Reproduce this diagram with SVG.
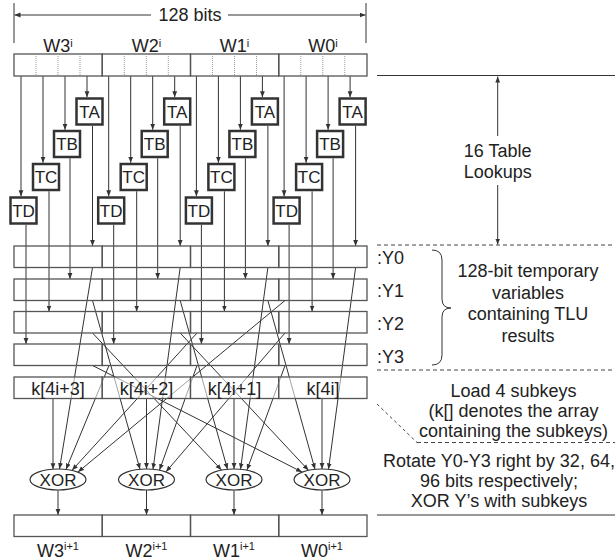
<svg xmlns="http://www.w3.org/2000/svg" width="615" height="560" viewBox="0 0 615 560">
<defs>
<marker id="ah" viewBox="0 0 10 10" refX="10" refY="5" markerWidth="6" markerHeight="6" markerUnits="userSpaceOnUse" orient="auto"><path d="M0,1 L10,5 L0,9 z" fill="#333"/></marker>
<style>
text{font-family:"Liberation Sans",Arial,Helvetica,sans-serif;fill:#222}
.t18{font-size:18px}
.t17{font-size:17px}
.mid{text-anchor:middle}
.ln{stroke:#333;stroke-width:1;fill:none}
.arr{stroke:#333;stroke-width:1;fill:none;marker-end:url(#ah)}
.cell{fill:none;stroke:#555;stroke-width:1.3}
.kcell{fill:#fff;fill-opacity:0.55;stroke:#555;stroke-width:1.3}
.tbox{fill:#fff;stroke:#333;stroke-width:2.5}
.xor{fill:#fff;stroke:#333;stroke-width:1.2}
.dash{stroke:#444;stroke-width:1;stroke-dasharray:4,3;fill:none}
.dot{stroke:#999;stroke-width:1;stroke-dasharray:1,1}
</style>
</defs>

<!-- width annotation -->
<g id="width-annotation">
<line class="ln" x1="14" y1="3" x2="14" y2="43"/>
<line class="ln" x1="366" y1="3" x2="366" y2="43"/>
<line class="arr" x1="151" y1="15" x2="14.5" y2="15"/>
<line class="arr" x1="228" y1="15" x2="365.5" y2="15"/>
<text class="t18 mid" x="190" y="21">128 bits</text>
</g>

<!-- connectors -->
<g id="connectors">
<!-- inputs to table lookups -->
<line class="arr" x1="21" y1="76" x2="21" y2="196.3"/>
<line class="arr" x1="43" y1="76" x2="43" y2="162.8"/>
<line class="arr" x1="65" y1="76" x2="65" y2="129.8"/>
<line class="arr" x1="87" y1="76" x2="87" y2="97.3"/>
<line class="arr" x1="108.7" y1="76" x2="108.7" y2="196.3"/>
<line class="arr" x1="130.7" y1="76" x2="130.7" y2="162.8"/>
<line class="arr" x1="152.7" y1="76" x2="152.7" y2="129.8"/>
<line class="arr" x1="174.7" y1="76" x2="174.7" y2="97.3"/>
<line class="arr" x1="196.4" y1="76" x2="196.4" y2="196.3"/>
<line class="arr" x1="218.4" y1="76" x2="218.4" y2="162.8"/>
<line class="arr" x1="240.4" y1="76" x2="240.4" y2="129.8"/>
<line class="arr" x1="262.4" y1="76" x2="262.4" y2="97.3"/>
<line class="arr" x1="284.1" y1="76" x2="284.1" y2="196.3"/>
<line class="arr" x1="306.1" y1="76" x2="306.1" y2="162.8"/>
<line class="arr" x1="328.1" y1="76" x2="328.1" y2="129.8"/>
<line class="arr" x1="350.1" y1="76" x2="350.1" y2="97.3"/>
<!-- outputs of table lookups -->
<line class="arr" x1="26" y1="224.8" x2="26" y2="344"/>
<line class="arr" x1="49" y1="191.3" x2="49" y2="311.5"/>
<line class="arr" x1="70" y1="158.3" x2="70" y2="279"/>
<line class="arr" x1="92.5" y1="125.8" x2="92.5" y2="246"/>
<line class="arr" x1="113.7" y1="224.8" x2="113.7" y2="344"/>
<line class="arr" x1="136.7" y1="191.3" x2="136.7" y2="311.5"/>
<line class="arr" x1="157.7" y1="158.3" x2="157.7" y2="279"/>
<line class="arr" x1="180.2" y1="125.8" x2="180.2" y2="246"/>
<line class="arr" x1="201.4" y1="224.8" x2="201.4" y2="344"/>
<line class="arr" x1="224.4" y1="191.3" x2="224.4" y2="311.5"/>
<line class="arr" x1="245.4" y1="158.3" x2="245.4" y2="279"/>
<line class="arr" x1="267.9" y1="125.8" x2="267.9" y2="246"/>
<line class="arr" x1="289.1" y1="224.8" x2="289.1" y2="344"/>
<line class="arr" x1="312.1" y1="191.3" x2="312.1" y2="311.5"/>
<line class="arr" x1="333.1" y1="158.3" x2="333.1" y2="279"/>
<line class="arr" x1="355.6" y1="125.8" x2="355.6" y2="246"/>
<!-- XOR W3 -->
<line class="arr" x1="53" y1="398.5" x2="53" y2="469.2"/>
<line class="arr" x1="92.5" y1="267.5" x2="59.5" y2="469"/>
<line class="arr" x1="109" y1="365.5" x2="66" y2="469.4"/>
<line class="arr" x1="197" y1="333" x2="72" y2="470.3"/>
<line class="arr" x1="285" y1="300.5" x2="78" y2="472"/>
<!-- XOR W2 -->
<line class="arr" x1="92.5" y1="300.5" x2="140" y2="469.3"/>
<line class="arr" x1="146.5" y1="398.5" x2="146.5" y2="469"/>
<line class="arr" x1="180.2" y1="267.5" x2="153" y2="469.3"/>
<line class="arr" x1="197" y1="365.5" x2="159.5" y2="470.1"/>
<line class="arr" x1="285" y1="333" x2="166" y2="471.8"/>
<!-- XOR W1 -->
<line class="arr" x1="92.5" y1="333" x2="221.5" y2="470"/>
<line class="arr" x1="180.2" y1="300.5" x2="227.5" y2="469.3"/>
<line class="arr" x1="234" y1="398.5" x2="234" y2="469"/>
<line class="arr" x1="267.9" y1="267.5" x2="240.5" y2="469.3"/>
<line class="arr" x1="285" y1="365.5" x2="247" y2="470"/>
<!-- XOR W0 -->
<line class="arr" x1="92.5" y1="365.5" x2="302" y2="472"/>
<line class="arr" x1="180.2" y1="333" x2="308.5" y2="470.3"/>
<line class="arr" x1="267.9" y1="300.5" x2="315" y2="469.3"/>
<line class="arr" x1="322" y1="398.5" x2="322" y2="469"/>
<line class="arr" x1="355.6" y1="267.5" x2="328.5" y2="469.3"/>
<!-- XOR outputs -->
<line class="arr" x1="58" y1="490" x2="58" y2="515"/>
<line class="arr" x1="146.5" y1="490" x2="146.5" y2="515"/>
<line class="arr" x1="234" y1="490" x2="234" y2="515"/>
<line class="arr" x1="322" y1="490" x2="322" y2="515"/>
</g>

<!-- input state -->
<g id="state-in">
<rect class="cell" x="14" y="54" width="88.25" height="22"/>
<rect class="cell" x="102.25" y="54" width="88.25" height="22"/>
<rect class="cell" x="190.5" y="54" width="88.25" height="22"/>
<rect class="cell" x="278.75" y="54" width="88.25" height="22"/>
<line class="dot" x1="36" y1="54" x2="36" y2="76"/>
<line class="dot" x1="58" y1="54" x2="58" y2="76"/>
<line class="dot" x1="80" y1="54" x2="80" y2="76"/>
<line class="dot" x1="124.3" y1="54" x2="124.3" y2="76"/>
<line class="dot" x1="146.3" y1="54" x2="146.3" y2="76"/>
<line class="dot" x1="168.3" y1="54" x2="168.3" y2="76"/>
<line class="dot" x1="212.5" y1="54" x2="212.5" y2="76"/>
<line class="dot" x1="234.5" y1="54" x2="234.5" y2="76"/>
<line class="dot" x1="256.5" y1="54" x2="256.5" y2="76"/>
<line class="dot" x1="300.8" y1="54" x2="300.8" y2="76"/>
<line class="dot" x1="322.8" y1="54" x2="322.8" y2="76"/>
<line class="dot" x1="344.8" y1="54" x2="344.8" y2="76"/>
<text class="t18 mid" x="58" y="52">W3<tspan font-size="11" dy="-5">i</tspan></text>
<text class="t18 mid" x="146.4" y="52">W2<tspan font-size="11" dy="-5">i</tspan></text>
<text class="t18 mid" x="234.6" y="52">W1<tspan font-size="11" dy="-5">i</tspan></text>
<text class="t18 mid" x="322.9" y="52">W0<tspan font-size="11" dy="-5">i</tspan></text>
</g>

<!-- table lookups -->
<g id="tlu-w3">
<rect class="tbox" x="76.5" y="98.5" width="26" height="26"/><text class="t17 mid" x="89.5" y="117.5">TA</text>
<rect class="tbox" x="54" y="131" width="26" height="26"/><text class="t17 mid" x="67" y="150">TB</text>
<rect class="tbox" x="33" y="164" width="26" height="26"/><text class="t17 mid" x="46" y="183">TC</text>
<rect class="tbox" x="10.5" y="197.5" width="26" height="26"/><text class="t17 mid" x="23.5" y="216.5">TD</text>
</g>
<g id="tlu-w2">
<rect class="tbox" x="164.2" y="98.5" width="26" height="26"/><text class="t17 mid" x="177.2" y="117.5">TA</text>
<rect class="tbox" x="141.7" y="131" width="26" height="26"/><text class="t17 mid" x="154.7" y="150">TB</text>
<rect class="tbox" x="120.7" y="164" width="26" height="26"/><text class="t17 mid" x="133.7" y="183">TC</text>
<rect class="tbox" x="98.2" y="197.5" width="26" height="26"/><text class="t17 mid" x="111.2" y="216.5">TD</text>
</g>
<g id="tlu-w1">
<rect class="tbox" x="251.9" y="98.5" width="26" height="26"/><text class="t17 mid" x="264.9" y="117.5">TA</text>
<rect class="tbox" x="229.4" y="131" width="26" height="26"/><text class="t17 mid" x="242.4" y="150">TB</text>
<rect class="tbox" x="208.4" y="164" width="26" height="26"/><text class="t17 mid" x="221.4" y="183">TC</text>
<rect class="tbox" x="185.9" y="197.5" width="26" height="26"/><text class="t17 mid" x="198.9" y="216.5">TD</text>
</g>
<g id="tlu-w0">
<rect class="tbox" x="339.6" y="98.5" width="26" height="26"/><text class="t17 mid" x="352.6" y="117.5">TA</text>
<rect class="tbox" x="317.1" y="131" width="26" height="26"/><text class="t17 mid" x="330.1" y="150">TB</text>
<rect class="tbox" x="296.1" y="164" width="26" height="26"/><text class="t17 mid" x="309.1" y="183">TC</text>
<rect class="tbox" x="273.6" y="197.5" width="26" height="26"/><text class="t17 mid" x="286.6" y="216.5">TD</text>
</g>

<!-- temporary variables -->
<g id="y0">
<rect class="cell" x="14" y="246" width="88.25" height="21.5"/><rect class="cell" x="102.25" y="246" width="88.25" height="21.5"/><rect class="cell" x="190.5" y="246" width="88.25" height="21.5"/><rect class="cell" x="278.75" y="246" width="88.25" height="21.5"/>
<text class="t18" x="377" y="264">:Y0</text>
</g>
<g id="y1">
<rect class="cell" x="14" y="279" width="88.25" height="21.5"/><rect class="cell" x="102.25" y="279" width="88.25" height="21.5"/><rect class="cell" x="190.5" y="279" width="88.25" height="21.5"/><rect class="cell" x="278.75" y="279" width="88.25" height="21.5"/>
<text class="t18" x="377" y="297">:Y1</text>
</g>
<g id="y2">
<rect class="cell" x="14" y="311.5" width="88.25" height="21.5"/><rect class="cell" x="102.25" y="311.5" width="88.25" height="21.5"/><rect class="cell" x="190.5" y="311.5" width="88.25" height="21.5"/><rect class="cell" x="278.75" y="311.5" width="88.25" height="21.5"/>
<text class="t18" x="377" y="330">:Y2</text>
</g>
<g id="y3">
<rect class="cell" x="14" y="344" width="88.25" height="21.5"/><rect class="cell" x="102.25" y="344" width="88.25" height="21.5"/><rect class="cell" x="190.5" y="344" width="88.25" height="21.5"/><rect class="cell" x="278.75" y="344" width="88.25" height="21.5"/>
<text class="t18" x="377" y="363">:Y3</text>
</g>

<!-- subkeys -->
<g id="subkeys">
<rect class="kcell" x="14" y="377" width="88.25" height="21.5"/><rect class="kcell" x="102.25" y="377" width="88.25" height="21.5"/><rect class="kcell" x="190.5" y="377" width="88.25" height="21.5"/><rect class="kcell" x="278.75" y="377" width="88.25" height="21.5"/>
<text class="t18 mid" x="58" y="394.5">k[4i+3]</text>
<text class="t18 mid" x="146.4" y="394.5">k[4i+2]</text>
<text class="t18 mid" x="234.6" y="394.5">k[4i+1]</text>
<text class="t18 mid" x="322.9" y="394.5">k[4i]</text>
</g>

<!-- XORs -->
<g id="xor-w3"><ellipse class="xor" cx="58" cy="479.5" rx="28" ry="10.5"/><text class="t17 mid" x="58" y="485.5">XOR</text></g>
<g id="xor-w2"><ellipse class="xor" cx="146.5" cy="479.5" rx="28" ry="10.5"/><text class="t17 mid" x="146.5" y="485.5">XOR</text></g>
<g id="xor-w1"><ellipse class="xor" cx="234" cy="479.5" rx="28" ry="10.5"/><text class="t17 mid" x="234" y="485.5">XOR</text></g>
<g id="xor-w0"><ellipse class="xor" cx="322" cy="479.5" rx="28" ry="10.5"/><text class="t17 mid" x="322" y="485.5">XOR</text></g>

<!-- output state -->
<g id="state-out">
<rect class="cell" x="14" y="515" width="88.25" height="21.5"/><rect class="cell" x="102.25" y="515" width="88.25" height="21.5"/><rect class="cell" x="190.5" y="515" width="88.25" height="21.5"/><rect class="cell" x="278.75" y="515" width="88.25" height="21.5"/>
<text class="t18 mid" x="58" y="557">W3<tspan font-size="11" dy="-7">i+1</tspan></text>
<text class="t18 mid" x="146.5" y="557">W2<tspan font-size="11" dy="-7">i+1</tspan></text>
<text class="t18 mid" x="234" y="557">W1<tspan font-size="11" dy="-7">i+1</tspan></text>
<text class="t18 mid" x="322" y="557">W0<tspan font-size="11" dy="-7">i+1</tspan></text>
</g>

<!-- right-hand annotations -->
<g id="annotations">
<line class="ln" x1="377" y1="75.5" x2="615" y2="75.5"/>
<line class="arr" x1="497.7" y1="136" x2="497.7" y2="76.5"/>
<line class="arr" x1="497.7" y1="185" x2="497.7" y2="244.5"/>
<text class="t18 mid" x="497.7" y="157">16 Table</text>
<text class="t18 mid" x="497.7" y="178">Lookups</text>
<line class="dash" x1="377" y1="245" x2="615" y2="245"/>
<path class="ln" d="M432,250 Q442,250 442,260 L442,299 Q442,308 451,308 Q442,308 442,317 L442,355 Q442,365 432,365"/>
<text class="t18 mid" x="528" y="277">128-bit temporary</text>
<text class="t18 mid" x="528" y="299">variables</text>
<text class="t18 mid" x="528" y="320">containing TLU</text>
<text class="t18 mid" x="528" y="342">results</text>
<line class="dash" x1="377" y1="370" x2="615" y2="370"/>
<text class="t18 mid" x="513.5" y="397">Load 4 subkeys</text>
<text class="t18 mid" x="513.5" y="417">(k[] denotes the array</text>
<text class="t18 mid" x="513.5" y="437">containing the subkeys)</text>
<line class="dash" x1="377" y1="404" x2="417" y2="442.5" style="stroke-dasharray:3,3"/>
<line class="dash" x1="417" y1="442.5" x2="615" y2="442.5"/>
<text class="t18 mid" x="499" y="466.5">Rotate Y0-Y3 right by 32, 64,</text>
<text class="t18 mid" x="499" y="487">96 bits respectively;</text>
<text class="t18 mid" x="499" y="507">XOR Y’s with subkeys</text>
<line class="ln" x1="377" y1="515" x2="615" y2="515"/>
</g>
</svg>
